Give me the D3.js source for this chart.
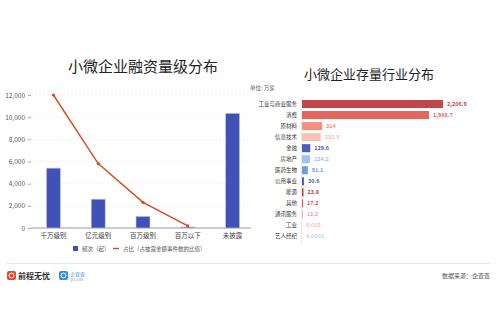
<!DOCTYPE html>
<html>
<head>
<meta charset="utf-8">
<script src="https://cdn.jsdelivr.net/npm/d3@7"></script>
<style>
  body { margin: 0; background: #fff; }
  text { font-family: "Noto Sans CJK SC", "Noto Sans", sans-serif; }
</style>
</head>
<body>
<div id="chart"></div>
<script>
// left chart data
var sizeCats = ["千万级别", "亿元级别", "百万级别", "百万以下", "未披露"];
var sizeCounts = [5400, 2600, 1050, 90, 10350];
var shareCats = ["千万级别", "亿元级别", "百万级别", "百万以下"];
var shareValues = [59.1, 28.6, 11.4, 0.9];
var countTicks = [0, 2000, 4000, 6000, 8000, 10000, 12000];

// right chart data
var industries = ["工业与商业服务", "消费", "原材料", "信息技术", "金融", "房地产", "医药生物",
  "公用事业", "能源", "其他", "通讯服务", "工业", "艺人经纪"];
var industryValues = [2206.9, 1988.7, 314, 292.9, 129.6, 124.2, 91.1, 30.6, 23.8, 17.2, 12.2, 0.015, 0.0001];
var industryLabels = ["2,206.9", "1,988.7", "314", "292.9", "129.6", "124.2", "91.1", "30.6", "23.8", "17.2", "12.2", "0.015", "0.0001"];
var industryColors = ["#c3474a", "#e2675f", "#f3907f", "#f8c3b4", "#4a5cc0", "#a2c0f2", "#6f9de2",
  "#3e62bf", "#c9393c", "#e0525a", "#f0a3a6", "#f5bcb5", "#bcd2f5"];

var svg = d3.select("#chart").append("svg")
  .attr("width", 500)
  .attr("height", 333);

svg.append("rect").attr("width", 500).attr("height", 333).attr("fill", "#fff");

// ---------- left: bar + line ----------
var left = { x0: 31, x1: 255, y0: 228, y1: 95 };

svg.append("text")
  .attr("x", 143).attr("y", 72)
  .attr("text-anchor", "middle")
  .attr("font-size", 15)
  .attr("fill", "#222")
  .text("小微企业融资量级分布");

var xBand = d3.scaleBand().domain(sizeCats).range([left.x0, left.x1]);
var yCount = d3.scaleLinear().domain([0, 12000]).range([left.y0, left.y1]);
var yShare = d3.scaleLinear().domain([0, 59.1]).range([left.y0, left.y1]);

// grid
svg.append("g").selectAll("line")
  .data(countTicks.slice(1))
  .enter().append("line")
  .attr("x1", left.x0).attr("x2", 251)
  .attr("y1", d => yCount(d)).attr("y2", d => yCount(d))
  .attr("stroke", "#e6e6e6")
  .attr("stroke-dasharray", "2,2")
  .attr("stroke-width", 0.6);

var yAxisL = svg.append("g")
  .attr("transform", `translate(${left.x0},0)`)
  .call(d3.axisLeft(yCount).tickValues(countTicks).tickSize(3).tickFormat(d3.format(",")));
yAxisL.select(".domain").remove();
yAxisL.selectAll("line").attr("stroke", "#aaa");
yAxisL.selectAll("text").attr("font-size", 6.5).attr("fill", "#555");

var xAxisL = svg.append("g")
  .attr("transform", `translate(0,${left.y0})`)
  .call(d3.axisBottom(xBand).tickSize(0).tickPadding(5));
xAxisL.select(".domain").attr("stroke", "#999").attr("d", `M${left.x0},0H251`);
xAxisL.selectAll("text").attr("font-size", 6.5).attr("fill", "#444");

svg.append("g").selectAll("rect")
  .data(sizeCounts)
  .enter().append("rect")
  .attr("x", (d, i) => xBand(sizeCats[i]) + xBand.bandwidth() / 2 - 7)
  .attr("width", 14)
  .attr("y", d => yCount(d))
  .attr("height", d => left.y0 - yCount(d))
  .attr("fill", "#4152b6")
  .attr("stroke", "#c5cbeb")
  .attr("stroke-width", 0.6);

var line = d3.line()
  .x((d, i) => xBand(shareCats[i]) + xBand.bandwidth() / 2)
  .y(d => yShare(d));

svg.append("path")
  .datum(shareValues)
  .attr("d", line)
  .attr("fill", "none")
  .attr("stroke", "#d9481f")
  .attr("stroke-width", 1.4);

svg.append("g").selectAll("circle")
  .data(shareValues)
  .enter().append("circle")
  .attr("cx", (d, i) => xBand(shareCats[i]) + xBand.bandwidth() / 2)
  .attr("cy", d => yShare(d))
  .attr("r", 1.6)
  .attr("fill", "#d9481f");

// legend
var legend = svg.append("g").attr("transform", "translate(0,249)");
legend.append("rect").attr("x", 73).attr("y", -3).attr("width", 5).attr("height", 5).attr("fill", "#4152b6");
legend.append("text").attr("x", 82).attr("y", 2).attr("font-size", 5.5).attr("fill", "#555").text("频次（起）");
legend.append("line").attr("x1", 113).attr("x2", 119).attr("y1", -0.5).attr("y2", -0.5)
  .attr("stroke", "#d9481f").attr("stroke-width", 1.4);
legend.append("text").attr("x", 123).attr("y", 2).attr("font-size", 5.5).attr("fill", "#555")
  .text("占比（占披露金额事件数的比值）");

// ---------- right: horizontal bars ----------
svg.append("text")
  .attr("x", 369).attr("y", 79)
  .attr("text-anchor", "middle")
  .attr("font-size", 13)
  .attr("fill", "#222")
  .text("小微企业存量行业分布");

svg.append("text")
  .attr("x", 250).attr("y", 90)
  .attr("font-size", 5.5)
  .attr("fill", "#555")
  .text("单位: 万家");

var yBand = d3.scaleBand().domain(industries).range([97, 243.5]).padding(0.27);
var xVal = d3.scaleLinear().domain([0, 2206.9]).range([302, 443]);

var yAxisR = svg.append("g")
  .attr("transform", "translate(301,0)")
  .call(d3.axisLeft(yBand).tickSize(0).tickPadding(4));
yAxisR.select(".domain").attr("stroke", "#ddd").attr("stroke-width", 0.6);
yAxisR.selectAll("text").attr("font-size", 5.5).attr("fill", "#333");

svg.append("g").selectAll("rect")
  .data(industryValues)
  .enter().append("rect")
  .attr("x", xVal(0))
  .attr("y", (d, i) => yBand(industries[i]))
  .attr("height", yBand.bandwidth())
  .attr("width", d => Math.max(xVal(d) - xVal(0), 0))
  .attr("fill", (d, i) => industryColors[i]);

svg.append("g").selectAll("text")
  .data(industryValues)
  .enter().append("text")
  .attr("x", d => xVal(d) + 4)
  .attr("y", (d, i) => yBand(industries[i]) + yBand.bandwidth() / 2 + 2)
  .attr("font-size", 5.5)
  .attr("font-weight", "bold")
  .attr("fill", (d, i) => industryColors[i])
  .text((d, i) => industryLabels[i]);

// ---------- footer ----------
svg.append("line")
  .attr("x1", 6).attr("x2", 490).attr("y1", 263.5).attr("y2", 263.5)
  .attr("stroke", "#e8e8e8").attr("stroke-width", 1.2);

var logo = svg.append("g").attr("transform", "translate(7,271)");
logo.append("rect").attr("width", 9).attr("height", 9).attr("rx", 2).attr("fill", "#e8452f");
logo.append("circle").attr("cx", 4.5).attr("cy", 4.5).attr("r", 2.4).attr("fill", "none")
  .attr("stroke", "#fff").attr("stroke-width", 1);
logo.append("text").attr("x", 11).attr("y", 8).attr("font-size", 8).attr("font-weight", "bold")
  .attr("fill", "#333").text("前程无忧");
logo.append("line").attr("x1", 47).attr("x2", 47).attr("y1", 0).attr("y2", 10)
  .attr("stroke", "#ccc").attr("stroke-width", 0.6);
logo.append("rect").attr("x", 52).attr("width", 9).attr("height", 9).attr("rx", 2).attr("fill", "#2f8fe8");
logo.append("circle").attr("cx", 56.5).attr("cy", 4.5).attr("r", 2.4).attr("fill", "none")
  .attr("stroke", "#fff").attr("stroke-width", 1);
logo.append("text").attr("x", 63).attr("y", 5).attr("font-size", 5).attr("fill", "#2f8fe8").text("企查查");
logo.append("text").attr("x", 63).attr("y", 10).attr("font-size", 3).attr("fill", "#888").text("QCC.COM");

svg.append("text")
  .attr("x", 490).attr("y", 278)
  .attr("text-anchor", "end")
  .attr("font-size", 6)
  .attr("fill", "#555")
  .text("数据来源：企查查");
</script>
</body>
</html>
